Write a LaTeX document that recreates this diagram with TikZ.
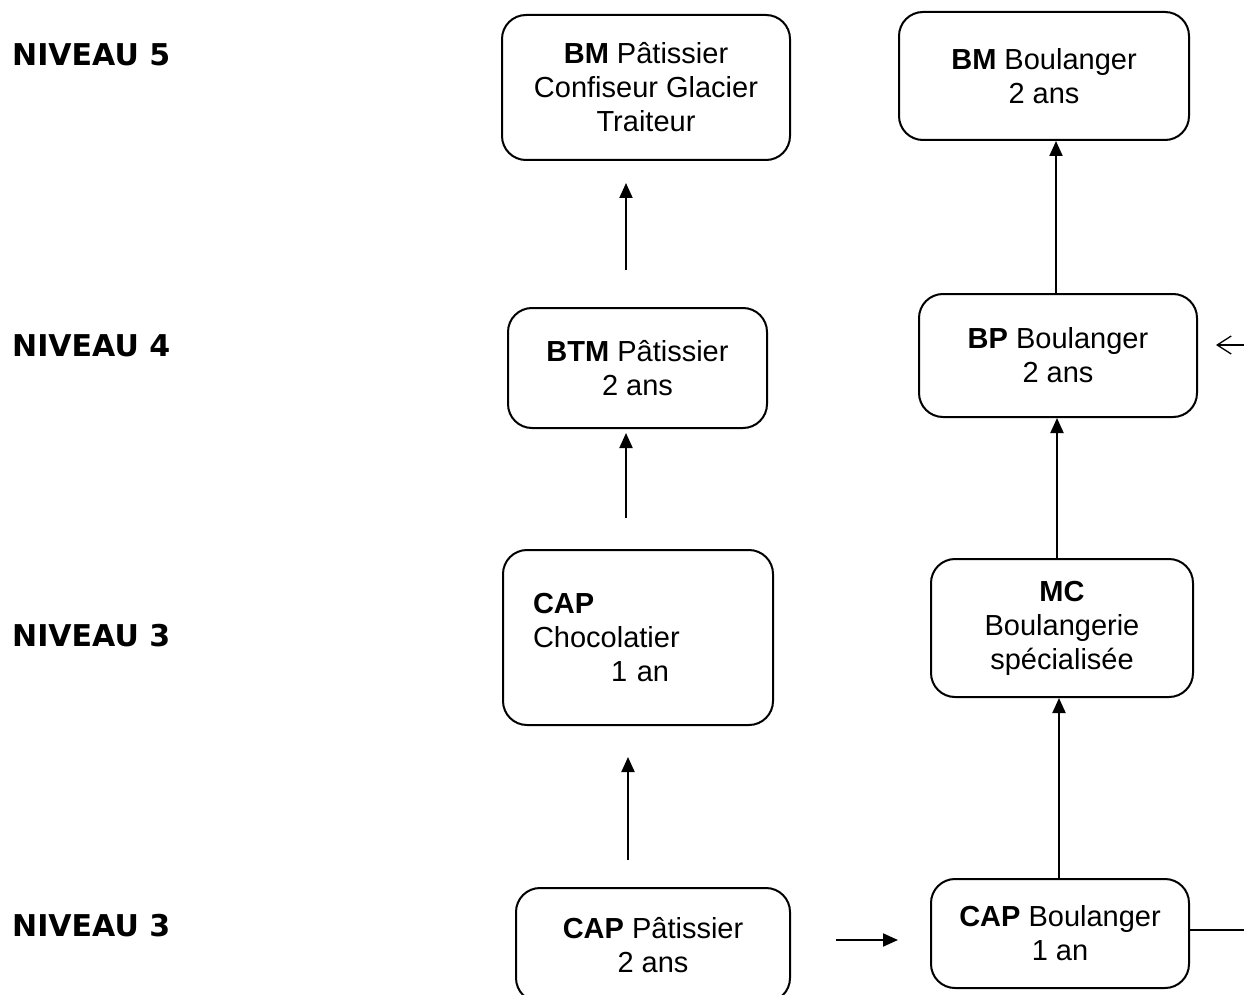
\documentclass[tikz,border=0pt]{standalone}
\usepackage{fontspec}
\setmainfont{Liberation Sans}
\newfontfamily\nivfont{DejaVu Sans}
\usetikzlibrary{arrows.meta}
\tikzset{
 box/.style={draw, line width=2pt, rounded corners=24pt, align=center, inner sep=0pt, font=\fontsize{29}{34}\selectfont},
 arr/.style={line width=2pt, -{Triangle[length=15pt,width=13pt]}},
 niv/.style={anchor=west, inner sep=0pt, font=\nivfont\bfseries\fontsize{30}{34}\selectfont},
}
\begin{document}
\begin{tikzpicture}[x=1pt,y=-1pt]
\useasboundingbox (0,0) rectangle (1244,995);
\clip (0,0) rectangle (1244,995);
% level labels
\node[niv] (n5) at (12,55) {NIVEAU 5};
\node[niv] (n4) at (12,346) {NIVEAU 4};
\node[niv] (n3a) at (12,636) {NIVEAU 3};
\node[niv] (n3b) at (12,926) {NIVEAU 3};
% boxes
\node[box, minimum width=288pt, minimum height=145pt] (bmp) at (646,87.5) {\textbf{BM} Pâtissier\\Confiseur Glacier\\Traiteur};
\node[box, minimum width=290pt, minimum height=128pt] (bmb) at (1044,76) {\textbf{BM} Boulanger\\2 ans};
\node[box, minimum width=259pt, minimum height=120pt] (btm) at (637.5,368) {\textbf{BTM} Pâtissier\\2 ans};
\node[box, minimum width=278pt, minimum height=123pt] (bpb) at (1058,355.5) {\textbf{BP} Boulanger\\2 ans};
\node[box, minimum width=270pt, minimum height=175pt, align=left, text width=210pt, inner xsep=30pt] (capc) at (638,637.5) {\textbf{CAP}\\Chocolatier\\\hspace*{78pt}1 an};
\node[box, minimum width=262pt, minimum height=138pt] (mc) at (1062,628) {\textbf{MC}\\Boulangerie\\spécialisée};
\node[box, minimum width=274pt, minimum height=114pt] (capp) at (653,945) {\textbf{CAP} Pâtissier\\2 ans};
\node[box, minimum width=258pt, minimum height=109pt] (capb) at (1060,933.5) {\textbf{CAP} Boulanger\\1 an};
% free ends of left-column arrows
\coordinate (a1s) at (626,270); \coordinate (a1e) at (626,183);
\coordinate (a2s) at (626,518); \coordinate (a2e) at (626,433);
\coordinate (a3s) at (628,860); \coordinate (a3e) at (628,757);
\coordinate (a4s) at (836,940); \coordinate (a4e) at (898,940);
\draw[arr] (a1s) -- (a1e);
\draw[arr] (a2s) -- (a2e);
\draw[arr] (a3s) -- (a3e);
\draw[arr] (a4s) -- (a4e);
% right column
\coordinate (xr1) at (1056,0);
\coordinate (xr2) at (1057,0);
\coordinate (xr3) at (1059,0);
\draw[arr] (bpb.north -| xr1) -- (bmb.south -| xr1);
\draw[arr] (mc.north -| xr2) -- (bpb.south -| xr2);
\draw[arr] (capb.north -| xr3) -- (mc.south -| xr3);
\coordinate (rout) at (1244,930);
\draw[line width=1.5pt] (capb.east |- rout) -- (rout);
\coordinate (rin1) at (1244,345);
\coordinate (rin2) at (1216,345);
\draw[line width=1.3pt, -{Straight Barb[length=14pt,width=18pt]}] (rin1) -- (rin2);
\end{tikzpicture}
\end{document}
